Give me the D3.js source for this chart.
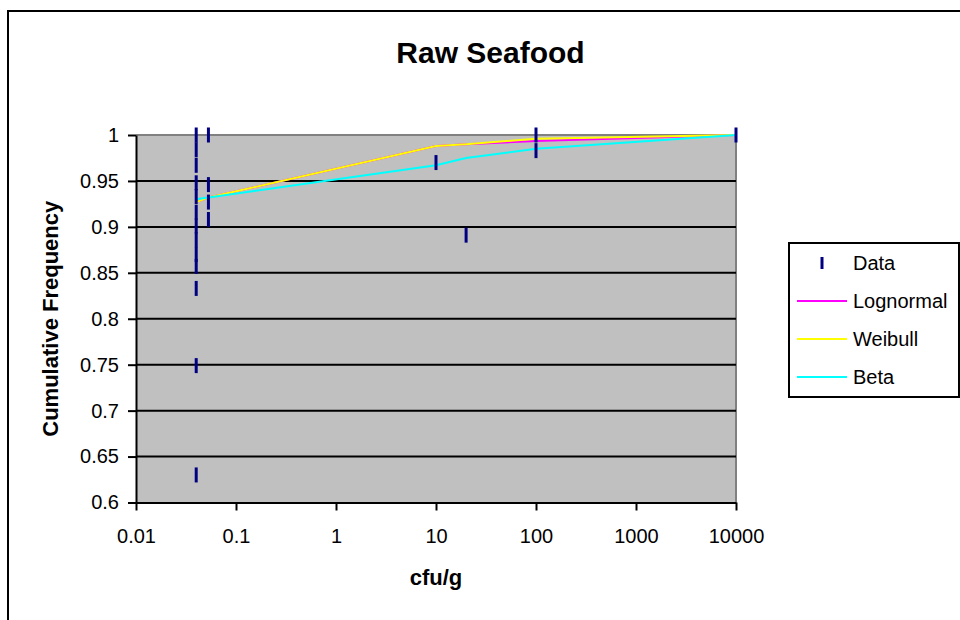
<!DOCTYPE html>
<html>
<head>
<meta charset="utf-8">
<script src="https://cdn.jsdelivr.net/npm/d3@7"></script>
<style>
  html, body { margin: 0; padding: 0; background: #fff; }
  svg { display: block; font-family: Arial, "Liberation Sans", sans-serif; }
</style>
</head>
<body>
<svg id="chart" width="960" height="620"></svg>
<script>
// Observed cumulative frequencies (cfu/g)
const dataX = [0.04, 0.04, 0.04, 0.04, 0.04, 0.04, 0.04, 0.04, 0.04, 0.04, 0.04, 0.04, 0.04,
               0.053, 0.053, 0.053, 0.053, 10, 20, 100, 100, 10000];
const dataY = [1.0, 0.984, 0.967, 0.948, 0.933, 0.916, 0.901, 0.886, 0.870, 0.857, 0.833, 0.749, 0.630,
               1.0, 0.946, 0.927, 0.908, 0.970, 0.891, 1.0, 0.983, 1.0];

// Fitted distributions evaluated at these concentrations
const fitX = [0.04, 0.053, 10, 20, 100, 10000];
const lognormal = [0.927, 0.932, 0.988, 0.990, 0.9935, 1.0];
const weibull   = [0.927, 0.932, 0.988, 0.990, 0.996, 1.0];
const beta      = [0.930, 0.932, 0.967, 0.975, 0.985, 1.0];

const xTickValues = [0.01, 0.1, 1, 10, 100, 1000, 10000];
const xTickLabels = ["0.01", "0.1", "1", "10", "100", "1000", "10000"];
const yTickValues = [0.6, 0.65, 0.7, 0.75, 0.8, 0.85, 0.9, 0.95, 1];
const yTickLabels = ["0.6", "0.65", "0.7", "0.75", "0.8", "0.85", "0.9", "0.95", "1"];

const seriesNames = ["Data", "Lognormal", "Weibull", "Beta"];
const seriesColors = ["#000080", "#FF00FF", "#FFFF00", "#00FFFF"];

const svg = d3.select("#chart");
const plot = { left: 136, right: 736, top: 135, bottom: 502.5 };

const x = d3.scaleLog().domain([0.01, 10000]).range([plot.left, plot.right]);
const y = d3.scaleLinear().domain([0.6, 1]).range([plot.bottom, plot.top]);

// Chart frame
svg.append("rect")
  .attr("x", 8).attr("y", 11).attr("width", 960).attr("height", 620)
  .attr("fill", "#fff").attr("stroke", "#000").attr("stroke-width", 2);

// Plot area background
svg.append("rect")
  .attr("x", plot.left).attr("y", plot.top)
  .attr("width", plot.right - plot.left).attr("height", plot.bottom - plot.top)
  .attr("fill", "#C0C0C0");

// Top and right edges of plot area
svg.append("line")
  .attr("x1", plot.left).attr("x2", plot.right).attr("y1", plot.top).attr("y2", plot.top)
  .attr("stroke", "#808080").attr("stroke-width", 2);
svg.append("line")
  .attr("x1", plot.right).attr("x2", plot.right).attr("y1", plot.top).attr("y2", plot.bottom)
  .attr("stroke", "#808080").attr("stroke-width", 2);

// Horizontal gridlines
svg.append("g").selectAll("line")
  .data(yTickValues.filter(v => v > 0.6 && v < 1))
  .join("line")
  .attr("x1", plot.left).attr("x2", plot.right)
  .attr("y1", d => y(d)).attr("y2", d => y(d))
  .attr("stroke", "#000").attr("stroke-width", 2);

// Axes
const xAxis = d3.axisBottom(x)
  .tickValues(xTickValues)
  .tickFormat((d, i) => xTickLabels[i])
  .tickSize(8).tickSizeOuter(0).tickPadding(18);
const gx = svg.append("g").attr("transform", `translate(0,${plot.bottom})`).call(xAxis);

const yAxis = d3.axisLeft(y)
  .tickValues(yTickValues)
  .tickFormat((d, i) => yTickLabels[i])
  .tickSize(8).tickSizeOuter(0).tickPadding(9);
const gy = svg.append("g").attr("transform", `translate(${plot.left},0)`).call(yAxis);

[gx, gy].forEach(g => {
  g.select(".domain").attr("stroke", "#000").attr("stroke-width", 2);
  g.selectAll(".tick line").attr("stroke", "#000").attr("stroke-width", 2);
  g.selectAll(".tick text").attr("fill", "#000")
    .style("font-size", "20px").style("font-family", "Arial, 'Liberation Sans', sans-serif");
});

// Fitted curves
const line = d3.line().x(d => x(d[0])).y(d => y(d[1]));
[lognormal, weibull, beta].forEach((vals, i) => {
  svg.append("path")
    .datum(fitX.map((fx, j) => [fx, vals[j]]))
    .attr("d", line)
    .attr("fill", "none")
    .attr("stroke", seriesColors[i + 1])
    .attr("stroke-width", 2);
});

// Data markers (vertical dashes)
svg.append("g").selectAll("line")
  .data(dataX.map((dx, i) => [dx, dataY[i]]))
  .join("line")
  .attr("x1", d => x(d[0])).attr("x2", d => x(d[0]))
  .attr("y1", d => y(d[1]) - 7.5).attr("y2", d => y(d[1]) + 7.5)
  .attr("stroke", seriesColors[0]).attr("stroke-width", 3);

// Titles
svg.append("text")
  .attr("x", 490.5).attr("y", 63)
  .attr("text-anchor", "middle")
  .style("font-size", "30px").style("font-weight", "bold")
  .text("Raw Seafood");

svg.append("text")
  .attr("x", (plot.left + plot.right) / 2).attr("y", 585)
  .attr("text-anchor", "middle")
  .style("font-size", "22px").style("font-weight", "bold")
  .text("cfu/g");

svg.append("text")
  .attr("transform", `translate(58,${(plot.top + plot.bottom) / 2}) rotate(-90)`)
  .attr("text-anchor", "middle")
  .style("font-size", "22px").style("font-weight", "bold")
  .text("Cumulative Frequency");

// Legend
const legend = svg.append("g");
legend.append("rect")
  .attr("x", 789).attr("y", 243).attr("width", 170).attr("height", 154)
  .attr("fill", "#fff").attr("stroke", "#000").attr("stroke-width", 2);

const legendY = [263, 301, 339, 377];
seriesNames.forEach((name, i) => {
  const cy = legendY[i];
  if (i === 0) {
    legend.append("line")
      .attr("x1", 822).attr("x2", 822).attr("y1", cy - 6).attr("y2", cy + 6)
      .attr("stroke", seriesColors[0]).attr("stroke-width", 3);
  } else {
    legend.append("line")
      .attr("x1", 797).attr("x2", 847).attr("y1", cy).attr("y2", cy)
      .attr("stroke", seriesColors[i]).attr("stroke-width", 2);
  }
  legend.append("text")
    .attr("x", 853).attr("y", cy).attr("dy", "0.36em")
    .style("font-size", "20px")
    .text(name);
});
</script>
</body>
</html>
